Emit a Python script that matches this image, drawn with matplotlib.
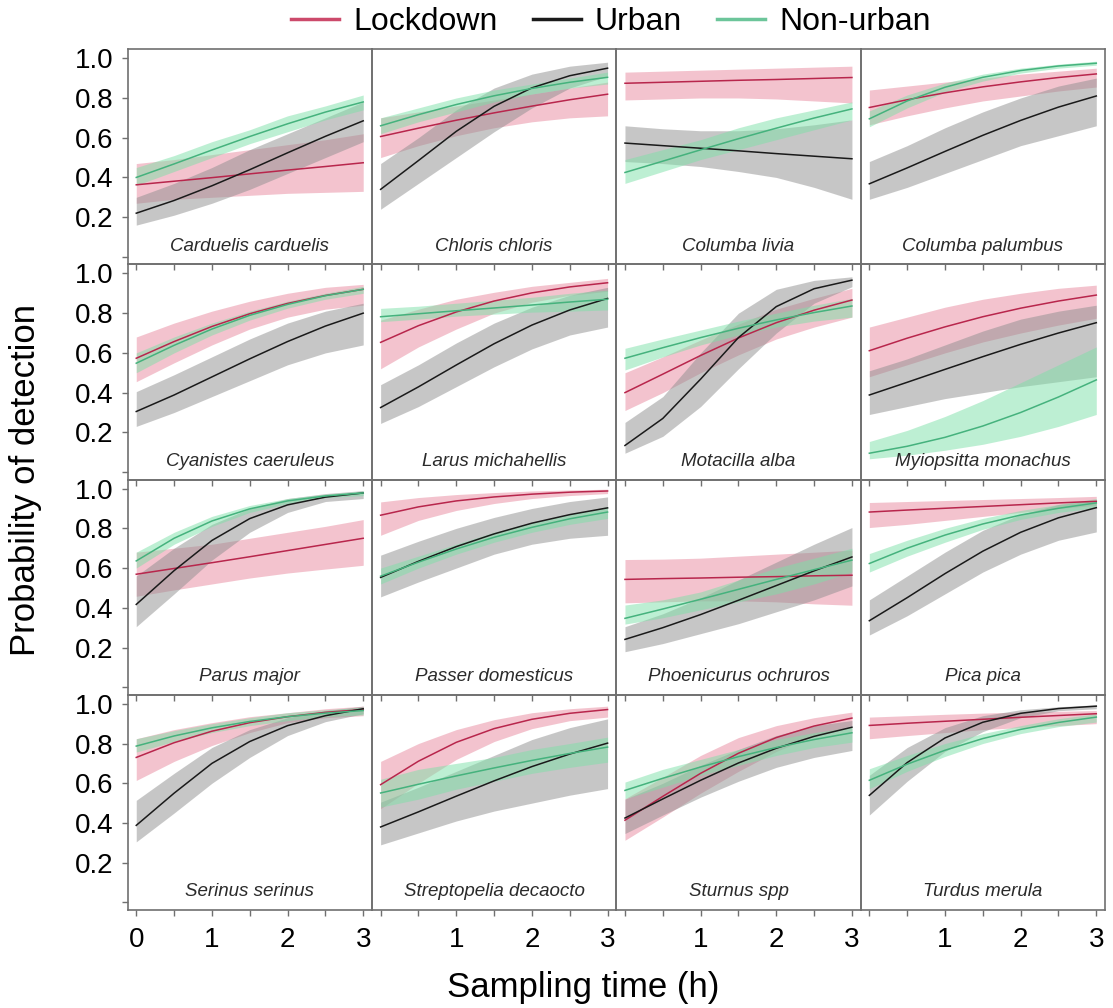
import matplotlib
matplotlib.use("Agg")
import matplotlib.pyplot as plt
import numpy as np
from matplotlib.lines import Line2D
from matplotlib.ticker import FixedLocator, FuncFormatter

plt.rcParams['font.family'] = ['Liberation Sans', 'DejaVu Sans']

# sampling time grid (h)
hours = [0, 0.5, 1, 1.5, 2, 2.5, 3]

species = ["Carduelis carduelis", "Chloris chloris", "Columba livia", "Columba palumbus",
           "Cyanistes caeruleus", "Larus michahellis", "Motacilla alba", "Myiopsitta monachus",
           "Parus major", "Passer domesticus", "Phoenicurus ochruros", "Pica pica",
           "Serinus serinus", "Streptopelia decaocto", "Sturnus spp", "Turdus merula"]

# predicted probability of detection, one row per species
lockdown_mean = [
    [0.363, 0.381, 0.399, 0.418, 0.437, 0.455, 0.474],
    [0.606, 0.648, 0.688, 0.725, 0.759, 0.791, 0.819],
    [0.874, 0.879, 0.884, 0.889, 0.893, 0.898, 0.903],
    [0.752, 0.791, 0.826, 0.856, 0.881, 0.903, 0.921],
    [0.573, 0.657, 0.733, 0.797, 0.849, 0.889, 0.920],
    [0.653, 0.737, 0.806, 0.861, 0.902, 0.932, 0.953],
    [0.400, 0.493, 0.587, 0.675, 0.752, 0.815, 0.866],
    [0.611, 0.674, 0.731, 0.782, 0.825, 0.861, 0.891],
    [0.569, 0.598, 0.627, 0.657, 0.688, 0.719, 0.750],
    [0.866, 0.908, 0.938, 0.958, 0.972, 0.982, 0.988],
    [0.543, 0.547, 0.550, 0.554, 0.557, 0.561, 0.564],
    [0.882, 0.892, 0.901, 0.910, 0.919, 0.928, 0.936],
    [0.730, 0.804, 0.862, 0.905, 0.935, 0.957, 0.971],
    [0.593, 0.711, 0.806, 0.875, 0.922, 0.952, 0.971],
    [0.414, 0.534, 0.650, 0.751, 0.830, 0.888, 0.928],
    [0.891, 0.902, 0.912, 0.922, 0.932, 0.941, 0.950],
]
lockdown_lo = [
    [0.270, 0.290, 0.300, 0.310, 0.320, 0.325, 0.330],
    [0.500, 0.560, 0.610, 0.650, 0.680, 0.700, 0.710],
    [0.790, 0.795, 0.800, 0.800, 0.795, 0.785, 0.775],
    [0.665, 0.710, 0.750, 0.785, 0.810, 0.835, 0.855],
    [0.455, 0.550, 0.640, 0.720, 0.780, 0.820, 0.840],
    [0.520, 0.630, 0.720, 0.800, 0.855, 0.890, 0.910],
    [0.310, 0.400, 0.500, 0.590, 0.670, 0.730, 0.780],
    [0.480, 0.540, 0.600, 0.655, 0.700, 0.740, 0.774],
    [0.458, 0.490, 0.520, 0.550, 0.575, 0.595, 0.614],
    [0.765, 0.840, 0.890, 0.925, 0.950, 0.965, 0.975],
    [0.425, 0.430, 0.435, 0.435, 0.430, 0.420, 0.413],
    [0.804, 0.820, 0.840, 0.860, 0.880, 0.900, 0.916],
    [0.614, 0.710, 0.790, 0.855, 0.905, 0.930, 0.940],
    [0.472, 0.600, 0.720, 0.810, 0.875, 0.915, 0.933],
    [0.313, 0.430, 0.550, 0.660, 0.760, 0.840, 0.891],
    [0.824, 0.840, 0.855, 0.870, 0.880, 0.890, 0.900],
]
lockdown_hi = [
    [0.470, 0.490, 0.515, 0.540, 0.565, 0.590, 0.620],
    [0.700, 0.730, 0.760, 0.790, 0.820, 0.850, 0.880],
    [0.930, 0.935, 0.940, 0.945, 0.950, 0.955, 0.960],
    [0.840, 0.860, 0.880, 0.900, 0.920, 0.935, 0.950],
    [0.680, 0.750, 0.810, 0.860, 0.900, 0.930, 0.945],
    [0.765, 0.820, 0.870, 0.905, 0.935, 0.955, 0.975],
    [0.500, 0.580, 0.665, 0.745, 0.820, 0.875, 0.925],
    [0.730, 0.780, 0.830, 0.870, 0.900, 0.925, 0.941],
    [0.680, 0.700, 0.720, 0.750, 0.780, 0.810, 0.844],
    [0.933, 0.955, 0.970, 0.980, 0.988, 0.993, 0.997],
    [0.643, 0.645, 0.650, 0.660, 0.670, 0.680, 0.690],
    [0.930, 0.935, 0.940, 0.945, 0.950, 0.955, 0.961],
    [0.824, 0.870, 0.905, 0.935, 0.955, 0.975, 0.988],
    [0.710, 0.800, 0.870, 0.920, 0.955, 0.975, 0.988],
    [0.522, 0.630, 0.740, 0.830, 0.890, 0.930, 0.958],
    [0.933, 0.940, 0.947, 0.953, 0.958, 0.962, 0.966],
]

urban_mean = [
    [0.220, 0.284, 0.358, 0.439, 0.524, 0.607, 0.685],
    [0.340, 0.485, 0.632, 0.758, 0.851, 0.912, 0.950],
    [0.573, 0.560, 0.547, 0.534, 0.520, 0.507, 0.494],
    [0.368, 0.448, 0.531, 0.612, 0.687, 0.754, 0.810],
    [0.305, 0.388, 0.479, 0.570, 0.657, 0.735, 0.800],
    [0.325, 0.429, 0.539, 0.646, 0.740, 0.816, 0.874],
    [0.134, 0.270, 0.468, 0.677, 0.833, 0.923, 0.966],
    [0.388, 0.452, 0.517, 0.581, 0.643, 0.700, 0.752],
    [0.417, 0.587, 0.739, 0.849, 0.918, 0.957, 0.978],
    [0.553, 0.634, 0.708, 0.772, 0.826, 0.869, 0.903],
    [0.241, 0.300, 0.366, 0.438, 0.512, 0.586, 0.656],
    [0.335, 0.451, 0.572, 0.685, 0.780, 0.853, 0.904],
    [0.388, 0.550, 0.700, 0.810, 0.890, 0.940, 0.975],
    [0.380, 0.456, 0.535, 0.612, 0.684, 0.747, 0.802],
    [0.425, 0.521, 0.615, 0.702, 0.776, 0.836, 0.882],
    [0.539, 0.704, 0.828, 0.907, 0.952, 0.976, 0.988],
]
urban_lo = [
    [0.160, 0.210, 0.270, 0.340, 0.420, 0.500, 0.580],
    [0.240, 0.370, 0.500, 0.630, 0.750, 0.850, 0.910],
    [0.480, 0.470, 0.455, 0.430, 0.400, 0.350, 0.290],
    [0.290, 0.350, 0.420, 0.490, 0.560, 0.610, 0.660],
    [0.230, 0.300, 0.380, 0.460, 0.540, 0.600, 0.640],
    [0.245, 0.330, 0.430, 0.530, 0.620, 0.690, 0.730],
    [0.095, 0.180, 0.330, 0.520, 0.700, 0.850, 0.933],
    [0.290, 0.330, 0.370, 0.400, 0.430, 0.455, 0.480],
    [0.305, 0.470, 0.640, 0.780, 0.880, 0.935, 0.950],
    [0.455, 0.530, 0.600, 0.670, 0.720, 0.750, 0.765],
    [0.179, 0.220, 0.270, 0.320, 0.380, 0.440, 0.510],
    [0.263, 0.360, 0.470, 0.580, 0.670, 0.740, 0.782],
    [0.305, 0.450, 0.600, 0.730, 0.840, 0.910, 0.950],
    [0.290, 0.350, 0.410, 0.460, 0.500, 0.540, 0.573],
    [0.347, 0.440, 0.530, 0.610, 0.680, 0.730, 0.765],
    [0.440, 0.610, 0.760, 0.860, 0.930, 0.965, 0.975],
]
urban_hi = [
    [0.300, 0.370, 0.450, 0.540, 0.620, 0.700, 0.780],
    [0.470, 0.600, 0.740, 0.850, 0.920, 0.960, 0.980],
    [0.660, 0.645, 0.635, 0.635, 0.645, 0.665, 0.690],
    [0.480, 0.560, 0.650, 0.730, 0.800, 0.860, 0.900],
    [0.405, 0.490, 0.580, 0.670, 0.750, 0.810, 0.850],
    [0.440, 0.540, 0.650, 0.750, 0.830, 0.890, 0.930],
    [0.250, 0.380, 0.600, 0.800, 0.920, 0.965, 0.983],
    [0.510, 0.570, 0.640, 0.710, 0.770, 0.810, 0.840],
    [0.560, 0.700, 0.820, 0.900, 0.950, 0.975, 0.990],
    [0.665, 0.735, 0.800, 0.855, 0.900, 0.935, 0.958],
    [0.305, 0.370, 0.450, 0.540, 0.630, 0.720, 0.804],
    [0.440, 0.560, 0.680, 0.790, 0.870, 0.920, 0.940],
    [0.514, 0.650, 0.780, 0.870, 0.930, 0.965, 0.988],
    [0.505, 0.580, 0.660, 0.740, 0.820, 0.880, 0.924],
    [0.520, 0.600, 0.690, 0.770, 0.840, 0.890, 0.916],
    [0.640, 0.780, 0.880, 0.940, 0.970, 0.985, 0.995],
]

nonurban_mean = [
    [0.400, 0.468, 0.538, 0.606, 0.670, 0.729, 0.780],
    [0.660, 0.716, 0.767, 0.811, 0.848, 0.879, 0.904],
    [0.425, 0.482, 0.539, 0.595, 0.648, 0.699, 0.745],
    [0.695, 0.785, 0.854, 0.904, 0.938, 0.961, 0.975],
    [0.548, 0.638, 0.720, 0.789, 0.844, 0.888, 0.920],
    [0.782, 0.797, 0.812, 0.826, 0.841, 0.856, 0.870],
    [0.573, 0.626, 0.677, 0.724, 0.766, 0.803, 0.836],
    [0.095, 0.130, 0.175, 0.232, 0.300, 0.378, 0.464],
    [0.636, 0.750, 0.837, 0.898, 0.938, 0.963, 0.978],
    [0.559, 0.630, 0.696, 0.755, 0.805, 0.848, 0.882],
    [0.347, 0.394, 0.443, 0.493, 0.543, 0.592, 0.640],
    [0.623, 0.700, 0.766, 0.822, 0.867, 0.901, 0.928],
    [0.787, 0.838, 0.879, 0.911, 0.935, 0.953, 0.966],
    [0.551, 0.595, 0.637, 0.677, 0.715, 0.750, 0.782],
    [0.564, 0.625, 0.682, 0.734, 0.780, 0.820, 0.854],
    [0.615, 0.696, 0.766, 0.825, 0.871, 0.906, 0.933],
]
nonurban_lo = [
    [0.360, 0.430, 0.500, 0.570, 0.630, 0.690, 0.740],
    [0.620, 0.680, 0.730, 0.780, 0.820, 0.850, 0.870],
    [0.370, 0.430, 0.490, 0.540, 0.590, 0.640, 0.690],
    [0.655, 0.750, 0.830, 0.885, 0.925, 0.950, 0.965],
    [0.500, 0.600, 0.690, 0.765, 0.825, 0.870, 0.900],
    [0.757, 0.770, 0.785, 0.795, 0.805, 0.810, 0.816],
    [0.514, 0.580, 0.640, 0.690, 0.730, 0.760, 0.780],
    [0.067, 0.085, 0.110, 0.140, 0.180, 0.230, 0.290],
    [0.600, 0.720, 0.810, 0.880, 0.925, 0.955, 0.965],
    [0.520, 0.600, 0.670, 0.730, 0.780, 0.820, 0.850],
    [0.318, 0.350, 0.390, 0.430, 0.470, 0.520, 0.580],
    [0.580, 0.660, 0.730, 0.795, 0.845, 0.880, 0.904],
    [0.757, 0.810, 0.855, 0.890, 0.915, 0.935, 0.944],
    [0.480, 0.520, 0.570, 0.610, 0.650, 0.680, 0.706],
    [0.522, 0.580, 0.640, 0.690, 0.740, 0.780, 0.807],
    [0.573, 0.660, 0.735, 0.800, 0.850, 0.885, 0.908],
]
nonurban_hi = [
    [0.450, 0.510, 0.580, 0.640, 0.710, 0.760, 0.815],
    [0.700, 0.750, 0.800, 0.840, 0.870, 0.900, 0.930],
    [0.490, 0.540, 0.590, 0.650, 0.700, 0.740, 0.780],
    [0.735, 0.815, 0.875, 0.920, 0.950, 0.970, 0.985],
    [0.600, 0.680, 0.750, 0.810, 0.860, 0.900, 0.935],
    [0.824, 0.835, 0.850, 0.865, 0.880, 0.900, 0.916],
    [0.623, 0.670, 0.715, 0.760, 0.800, 0.840, 0.874],
    [0.154, 0.210, 0.280, 0.360, 0.450, 0.540, 0.630],
    [0.680, 0.780, 0.860, 0.915, 0.950, 0.972, 0.988],
    [0.600, 0.660, 0.720, 0.780, 0.830, 0.870, 0.910],
    [0.414, 0.440, 0.480, 0.540, 0.600, 0.650, 0.700],
    [0.673, 0.740, 0.800, 0.850, 0.890, 0.920, 0.950],
    [0.824, 0.865, 0.900, 0.930, 0.955, 0.970, 0.983],
    [0.620, 0.670, 0.700, 0.730, 0.770, 0.800, 0.832],
    [0.606, 0.670, 0.720, 0.770, 0.820, 0.855, 0.882],
    [0.673, 0.740, 0.800, 0.850, 0.890, 0.925, 0.950],
]

groups = [
    ("Lockdown", lockdown_mean, lockdown_lo, lockdown_hi, "#b8264c", "#e8899e"),
    ("Urban", urban_mean, urban_lo, urban_hi, "#1a1a1a", "#8f8f8f"),
    ("Non-urban", nonurban_mean, nonurban_lo, nonurban_hi, "#45b27d", "#7de0a8"),
]

fig, axs = plt.subplots(4, 4, figsize=(11.13, 10.08), dpi=100)
fig.subplots_adjust(left=0.1146, right=0.9928, top=0.9511, bottom=0.0972, wspace=0, hspace=0)

x = np.array(hours)
for k, ax in enumerate(axs.flat):
    row, col = divmod(k, 4)
    ax.set_facecolor("none")
    for name, mean, lo, hi, lc, fc in groups:
        ax.fill_between(x, lo[k], hi[k], color=fc, alpha=0.5, lw=0)
    for name, mean, lo, hi, lc, fc in groups:
        ax.plot(x, mean[k], color=lc, lw=1.1)
    ax.text(1.5, 0.053, species[k], ha="center", va="center", style="italic",
            fontsize=13.5, color="#2a2a2a")

    ax.set_xlim(-0.115, 3.115)
    ax.set_ylim(-0.038, 1.045)
    for sp in ax.spines.values():
        sp.set_color("#707070")
        sp.set_linewidth(1.2)

    ax.xaxis.set_major_locator(FixedLocator(hours))
    ax.yaxis.set_major_locator(FixedLocator([0, 0.2, 0.4, 0.6, 0.8, 1.0]))
    ax.tick_params(axis="both", direction="out", length=4, width=1, color="#707070",
                   labelsize=20, pad=6)

    if row == 3:
        skip0 = col > 0
        ax.xaxis.set_major_formatter(FuncFormatter(
            lambda v, p, s=skip0: "" if (v != int(v) or (s and v == 0)) else "%d" % v))
        ax.tick_params(axis="x", labelbottom=True, pad=8)
    else:
        ax.tick_params(axis="x", labelbottom=False)

    if col == 0:
        ax.yaxis.set_major_formatter(FuncFormatter(
            lambda v, p: "" if abs(v) < 1e-9 else "%.1f" % v))
    else:
        ax.tick_params(axis="y", left=False, labelleft=False)

fig.supxlabel("Sampling time (h)", fontsize=25, x=0.524, y=0.004)
fig.supylabel("Probability of detection", fontsize=25, x=0.008, y=0.524)

handles = [Line2D([], [], color=lc, lw=2.5) for _, _, _, _, lc, _ in groups]
handles[0].set_color("#cc4a6b")
handles[2].set_color("#6cc59a")
fig.legend(handles, [g[0] for g in groups], loc="center", bbox_to_anchor=(0.549, 0.978),
           ncol=3, frameon=False, fontsize=23, handlelength=1.5, handletextpad=0.45,
           columnspacing=1.1)

fig.savefig("out.png", dpi=100)
